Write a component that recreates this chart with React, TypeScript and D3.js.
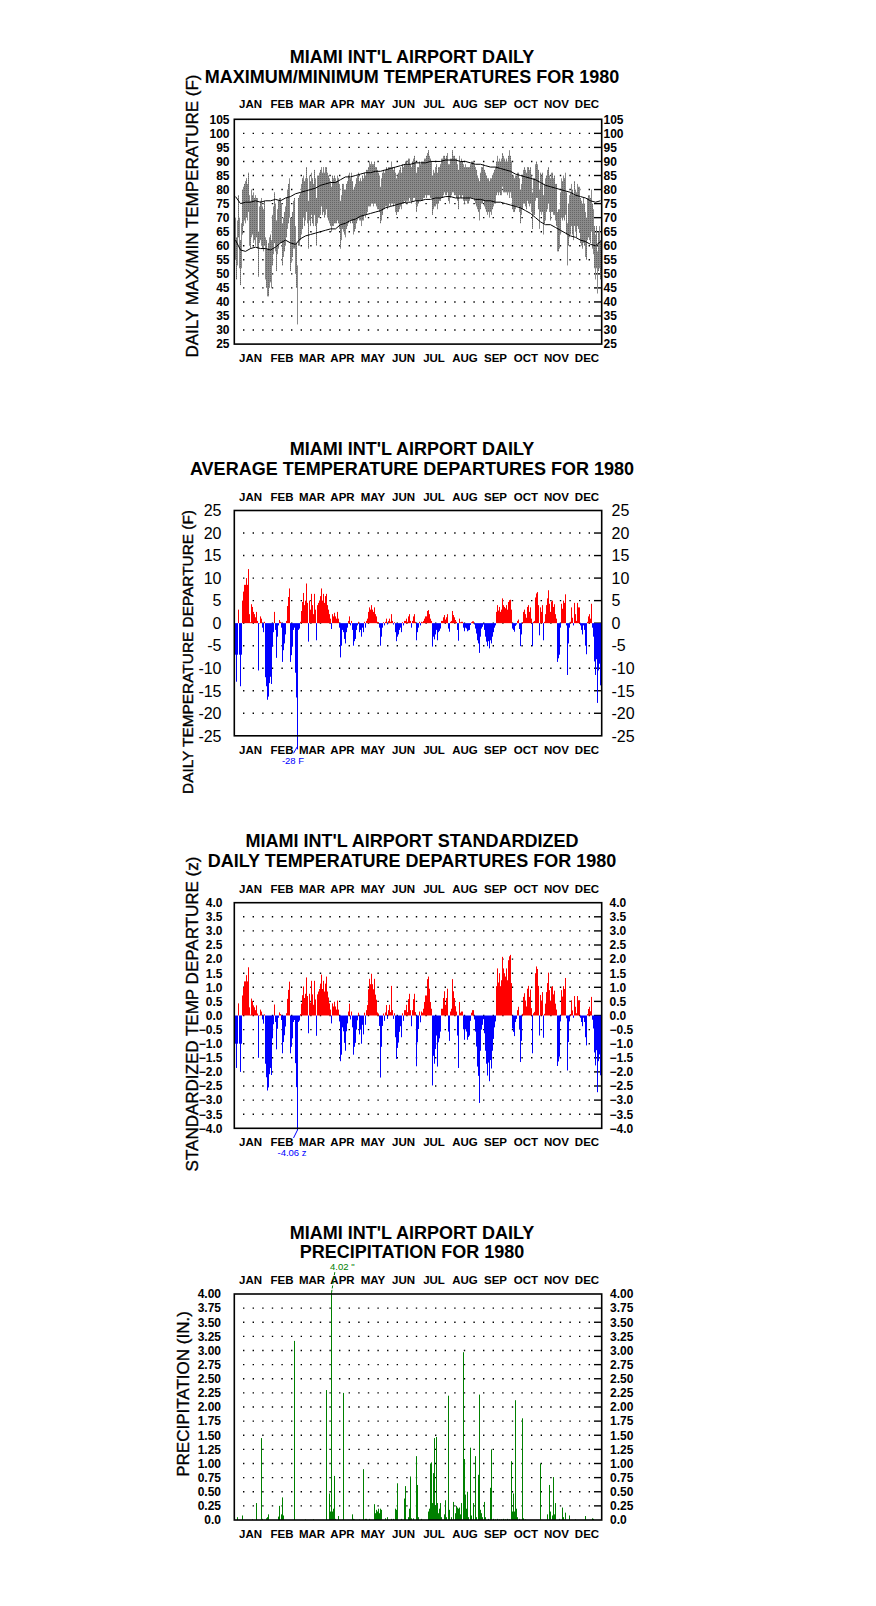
import React from 'react';
import * as d3 from 'd3';

// ---------------- DATA ----------------
const MONTHS = ['JAN', 'FEB', 'MAR', 'APR', 'MAY', 'JUN', 'JUL', 'AUG', 'SEP', 'OCT', 'NOV', 'DEC'];
const MONTH_DAYS = [31, 29, 31, 30, 31, 30, 31, 31, 30, 31, 30, 31];

// daily maximum temperature (F), day 0 = Jan 1 1980
const TMAX = [
  70, 63, 69, 78, 70, 62, 68, 80, 81, 82, 83, 84, 82, 86, 78, 76, 80, 78, 79, 77, 78, 77, 77, 65, 74, 76, 77, 74, 73, 76, 63,
  62, 59, 61, 63, 64, 62, 71, 74, 79, 75, 69, 73, 76, 77, 77, 75, 68, 70, 72, 74, 77, 80, 82, 84, 70, 70, 72, 76, 77,
  67, 61, 53, 77, 78, 79, 82, 84, 85, 83, 84, 88, 84, 76, 85, 83, 86, 84, 82, 87, 84, 77, 85, 85, 86, 87, 88, 86, 88, 86, 88,
  88, 86, 85, 84, 83, 81, 85, 84, 85, 84, 83, 85, 84, 82, 76, 78, 82, 82, 80, 80, 82, 83, 85, 86, 84, 86, 83, 80, 81, 82,
  84, 85, 86, 83, 84, 83, 85, 84, 86, 85, 87, 87, 88, 90, 89, 90, 89, 89, 90, 88, 88, 87, 86, 85, 81, 84, 86, 87, 86, 87, 88,
  87, 88, 88, 88, 90, 88, 87, 88, 86, 84, 85, 86, 87, 88, 86, 89, 88, 89, 90, 90, 89, 91, 91, 89, 88, 90, 91, 92, 90, 86,
  88, 88, 90, 89, 90, 90, 90, 91, 91, 92, 93, 94, 92, 91, 90, 85, 87, 86, 88, 89, 86, 88, 88, 89, 91, 91, 92, 92, 91, 92, 93,
  89, 89, 91, 91, 94, 92, 92, 91, 91, 89, 87, 92, 90, 91, 90, 89, 88, 89, 88, 88, 88, 88, 89, 90, 90, 90, 89, 88, 87, 85, 84,
  83, 86, 88, 88, 89, 87, 86, 85, 84, 84, 83, 84, 84, 85, 86, 87, 88, 90, 92, 90, 91, 90, 91, 93, 92, 91, 90, 91, 90, 92,
  94, 92, 90, 85, 85, 84, 85, 85, 86, 86, 84, 80, 82, 85, 87, 88, 87, 86, 88, 88, 87, 88, 85, 79, 84, 84, 89, 90, 89, 87, 80,
  86, 85, 86, 78, 82, 84, 85, 87, 88, 85, 84, 86, 86, 84, 85, 82, 82, 72, 73, 73, 79, 84, 83, 85, 84, 86, 79, 68, 75, 78,
  79, 82, 80, 78, 83, 80, 79, 82, 81, 81, 77, 76, 75, 77, 75, 72, 70, 77, 78, 78, 77, 80, 75, 73, 67, 64, 67, 58, 65, 67, 62,
];

// daily minimum temperature (F)
const TMIN = [
  55, 48, 53, 63, 52, 46, 52, 64, 67, 69, 68, 70, 69, 72, 60, 59, 63, 64, 61, 62, 60, 63, 59, 49, 61, 62, 60, 59, 58, 60, 48,
  45, 42, 42, 45, 47, 45, 53, 57, 61, 58, 51, 57, 59, 61, 61, 61, 53, 56, 58, 60, 63, 66, 68, 70, 51, 54, 56, 59, 59,
  50, 45, 32, 60, 60, 62, 64, 66, 70, 67, 69, 72, 68, 59, 69, 67, 71, 68, 67, 71, 67, 60, 68, 70, 70, 71, 74, 71, 72, 70, 71,
  73, 70, 69, 68, 67, 65, 67, 67, 68, 68, 68, 69, 68, 66, 59, 62, 66, 65, 64, 63, 66, 67, 68, 69, 68, 69, 68, 64, 65, 66,
  68, 69, 70, 69, 69, 67, 69, 69, 71, 70, 71, 72, 74, 74, 74, 75, 75, 74, 75, 75, 74, 73, 73, 72, 68, 69, 71, 73, 73, 74, 74,
  73, 74, 75, 74, 75, 75, 74, 75, 72, 71, 72, 72, 73, 74, 73, 75, 75, 76, 75, 76, 76, 76, 77, 76, 75, 76, 77, 77, 76, 72,
  74, 75, 76, 76, 76, 76, 77, 77, 78, 77, 78, 78, 78, 77, 77, 71, 73, 74, 74, 75, 73, 75, 76, 76, 77, 77, 78, 79, 78, 78, 79,
  76, 75, 77, 78, 79, 79, 78, 78, 77, 76, 73, 78, 77, 77, 78, 76, 75, 76, 76, 75, 75, 76, 77, 77, 77, 77, 76, 75, 74, 73, 72,
  69, 73, 75, 75, 76, 74, 73, 72, 71, 72, 70, 72, 71, 73, 74, 75, 75, 78, 79, 78, 79, 78, 78, 81, 79, 79, 79, 79, 78, 79,
  77, 79, 77, 73, 72, 72, 73, 74, 74, 74, 72, 68, 71, 73, 75, 75, 74, 73, 76, 75, 74, 75, 72, 66, 71, 71, 76, 77, 77, 73, 66,
  72, 71, 72, 64, 68, 69, 72, 73, 75, 72, 69, 72, 72, 71, 71, 69, 67, 58, 58, 59, 64, 70, 69, 70, 69, 71, 64, 53, 60, 63,
  64, 67, 64, 62, 67, 65, 63, 67, 66, 65, 61, 60, 59, 61, 60, 56, 55, 62, 63, 62, 61, 65, 59, 57, 52, 48, 52, 43, 51, 52, 48,
];

// normal max / min curves, sampled every 5 days
const NORM_DAY = [
  0, 5, 10, 15, 20, 25, 30, 35, 40, 45, 50, 55, 60, 65, 70, 75, 80, 85, 90, 95, 100, 105, 110, 115, 120, 125, 130, 135, 140, 145,
  150, 155, 160, 165, 170, 175, 180, 185, 190, 195, 200, 205, 210, 215, 220, 225, 230, 235, 240, 245, 250, 255, 260, 265, 270, 275,
  280, 285, 290, 295, 300, 305, 310, 315, 320, 325, 330, 335, 340, 345, 350, 355, 360, 365,
];
const NORM_MAX = [
  77.5, 75, 75.5, 75.5, 76, 75.5, 76, 76, 76.5, 76, 77, 77.5, 78.5, 79, 79.5,
  80, 80.5, 81.5, 82, 82.5, 82.5, 83.5, 84.5, 84.5, 85, 85.5, 86, 86, 86.5, 86.5,
  87, 87.5, 88, 88.5, 89, 89, 89.5, 89.5, 89.5, 90, 90, 90, 90.5, 90.5, 90.5,
  90, 90, 89.5, 89, 89, 88.5, 88, 88, 87.5, 87, 86.5, 85.5, 85, 84.5, 84,
  83.5, 82.5, 81.5, 81, 80.5, 80, 79.5, 79, 78, 77.5, 77, 76, 75.5, 76,
];
const NORM_MIN = [
  62, 58.5, 58, 59, 59.5, 59, 59, 58.5, 59.5, 61, 62, 61, 60.5, 62.5, 63.5,
  64, 64.5, 65, 65.5, 66, 66, 67.5, 68, 69, 69.5, 70.5, 71, 71.5, 72, 72.5,
  73.5, 74, 74.5, 75, 75.5, 75.5, 76, 76, 76.5, 76.5, 77, 77, 77.5, 77.5, 77,
  77, 77, 77, 76.5, 76.5, 76, 76, 75.5, 75.5, 75, 74.5, 74, 73.5, 72.5, 71.5,
  70, 68.5, 67.5, 67.5, 66.5, 65.5, 64.5, 63.5, 63, 62, 61.5, 60.5, 60, 61.5,
];

// daily average temperature departure (F)
const DEP = [
  -7, -13, -7, 3, -7, -14, -7, 5, 7, 8.5, 8.5, 10, 8.5, 12, 2, 0.2, 4.2, 3.6, 2.5, 2, 1.3, 2.5, 0.5, -10.5, 0, 1.5, 1, -1, -2, 0.3, -12,
  -14, -17, -16.3, -13.3, -11.9, -13.5, -5.2, -2, 2.5, -1.5, -7.7, -3, -0.5, 0.7, 0.3, -1, -8.6, -6, -4.5, -2.5, 0.5, 3.8, 5.8, 7.7, -8.6, -7.1, -5.2, -1.5, -1,
  -11, -16.5, -28, -1.5, -1.2, 0.3, 2.7, 4.7, 6.7, 4, 5, 8.8, 4.5, -4.1, 5, 3, 6.5, 4, 2, 6.5, 3, -3.8, 4, 4.5, 5, 6, 7.7, 5, 6.5, 4.5, 6,
  6.5, 4, 3, 2, 1, -1.3, 2, 1.5, 2.3, 1.5, 1, 2.5, 1, -1, -7.6, -5, -1.5, -2, -3.5, -4.5, -2, -1, 0.5, 1.5, -0.5, 0.5, -1.5, -5, -4, -3.5,
  -1.5, -0.5, 0.3, -2, -1.5, -3, -1, -2, 0.3, -1, 0.5, 1, 2.5, 3.5, 3, 4, 3, 2.5, 3.5, 2, 1.5, 0.3, 0.2, -1, -5, -3, -1, 0.2, -0.5, 0.3, 1,
  -0.3, 0.5, 1, 0.3, 2, 0.5, -0.3, 0.2, -2, -4, -3, -2.5, -1.5, -1, -2, 0.2, -0.5, 0.5, 0.5, 1, 0.3, 1.5, 2, 0.5, -1, 0.5, 1.5, 2, 0.3, -3.8,
  -2, -1, 0.3, -0.5, 0.3, 0.2, 0.5, 1, 1.5, 1.5, 2.7, 2.9, 2, 1, 0.5, -5.2, -3, -3.6, -2.5, -1.5, -3.8, -2, -1.7, -1.2, 0.5, 0.5, 1.3, 1.8, 0.8, 1.3, 2,
  -1.2, -1.9, 0.3, 0.5, 2.7, 1.8, 1.3, 0.7, 0.3, -1.5, -3.9, 1, 0.2, 0.3, 0.3, -1, -1.8, -1, -1.2, -1.8, -1.6, -1.5, -0.4, 0.2, 0.4, 0.4, -0.3, -1.2, -2.3, -3.8, -4.5,
  -6.6, -3, -1.2, -0.8, -0.3, -1.5, -3, -4.1, -5.1, -4, -5.6, -3.8, -4.5, -3, -2, -1, -0.5, 2.5, 4, 2.8, 3.6, 2.5, 3, 5.5, 4, 3.6, 3.3, 4, 3, 4.7,
  5.1, 5.2, 3, -1.2, -1.5, -1.9, -0.6, -0.3, 0.5, 0.8, -1.3, -5.1, -2.5, 0.2, 2.5, 3, 2, 1.2, 3.6, 4, 2.5, 3.5, 1, -5.1, 0.3, 0.5, 5.7, 6.6, 6.9, 4, -2.7,
  3.5, 2.5, 4, -3.8, 0.3, 2, 4, 5.5, 7.3, 4.3, 2.5, 4.8, 5, 3.6, 4.2, 2, 1, -8.6, -7.8, -7, -1, 4.3, 3.2, 5, 4.5, 6.4, -0.5, -11.5, -4.5, -1,
  0.3, 3.5, 1.2, -0.5, 4.5, 2, 0.5, 4.5, 3.5, 3.5, -0.5, -1.5, -2.5, -0.5, -1.5, -5, -6.9, 0.3, 1.5, 2, 1, 4.3, -1, -3, -8.5, -11.5, -8, -17.7, -10.5, -9, -13.8,
];

// standardized daily departure (z)
const ZDEP = [
  -1.0, -1.86, -1.0, 0.43, -1.0, -2.0, -1.0, 0.71, 1.0, 1.21, 1.21, 1.43, 1.21, 1.71, 0.29, 0.03, 0.6, 0.51, 0.36, 0.29, 0.19, 0.36, 0.07, -1.5, 0, 0.21, 0.14, -0.14, -0.29, 0.04, -1.71,
  -2.19, -2.66, -2.55, -2.08, -1.86, -2.11, -0.81, -0.31, 0.39, -0.23, -1.2, -0.47, -0.08, 0.11, 0.05, -0.16, -1.34, -0.94, -0.7, -0.39, 0.08, 0.59, 0.91, 1.2, -1.34, -1.11, -0.81, -0.23, -0.16,
  -1.69, -2.54, -4.06, -0.23, -0.18, 0.05, 0.42, 0.72, 1.03, 0.62, 0.77, 1.35, 0.69, -0.63, 0.77, 0.46, 1.23, 0.75, 0.38, 1.23, 0.57, -0.72, 0.75, 0.85, 0.94, 1.13, 1.45, 0.94, 1.23, 0.85, 1.13,
  1.38, 0.85, 0.64, 0.43, 0.21, -0.28, 0.43, 0.32, 0.49, 0.32, 0.21, 0.53, 0.21, -0.21, -1.62, -1.39, -0.42, -0.56, -0.97, -1.25, -0.56, -0.28, 0.14, 0.42, -0.14, 0.14, -0.42, -1.39, -1.11, -0.97,
  -0.5, -0.17, 0.1, -0.67, -0.5, -1.0, -0.33, -0.67, 0.1, -0.33, 0.19, 0.37, 0.93, 1.3, 1.11, 1.48, 1.11, 0.93, 1.3, 0.74, 0.56, 0.11, 0.07, -0.37, -2.2, -1.11, -0.37, 0.07, -0.19, 0.11, 0.37,
  -0.12, 0.19, 0.38, 0.12, 1.05, 0.19, -0.12, 0.08, -0.77, -1.54, -1.15, -0.96, -0.58, -0.38, -0.77, 0.08, -0.19, 0.19, 0.19, 0.38, 0.12, 0.58, 0.77, 0.19, -0.38, 0.19, 0.58, 0.77, 0.12, -1.8,
  -0.95, -0.48, 0.14, -0.24, 0.14, 0.1, 0.24, 0.48, 0.71, 0.71, 1.29, 1.38, 0.95, 0.48, 0.24, -2.48, -1.43, -1.71, -1.19, -0.71, -1.81, -0.95, -0.81, -0.57, 0.24, 0.24, 0.62, 0.86, 0.38, 0.62, 0.95,
  -0.57, -0.9, 0.14, 0.24, 1.29, 0.86, 0.62, 0.33, 0.14, -0.71, -1.86, 0.48, 0.1, 0.14, 0.14, -0.48, -0.86, -0.48, -0.57, -0.86, -0.76, -0.71, -0.19, 0.1, 0.19, 0.19, -0.14, -0.57, -1.1, -1.81, -2.14,
  -3.1, -1.25, -0.5, -0.33, -0.13, -0.63, -1.25, -1.71, -2.13, -1.67, -2.33, -1.58, -1.88, -1.25, -0.83, -0.42, -0.21, 1.04, 1.67, 1.17, 1.5, 1.04, 1.25, 2.08, 1.67, 1.5, 1.38, 1.67, 1.25, 1.96,
  2.1, 2.15, 1.15, -0.46, -0.58, -0.73, -0.23, -0.12, 0.19, 0.31, -0.5, -1.65, -0.9, 0.06, 0.66, 0.79, 0.53, 0.32, 0.95, 1.05, 0.66, 0.92, 0.26, -1.34, 0.08, 0.13, 1.5, 1.74, 1.65, 1.05, -0.71,
  0.73, 0.52, 0.83, -0.79, 0.06, 0.42, 0.83, 1.15, 1.52, 0.9, 0.52, 1.0, 1.04, 0.75, 0.88, 0.42, 0.21, -1.79, -1.63, -1.46, -0.21, 0.9, 0.67, 1.04, 0.94, 1.33, -0.1, -1.95, -0.94, -0.21,
  0.05, 0.54, 0.18, -0.08, 0.69, 0.31, 0.08, 0.69, 0.54, 0.54, -0.08, -0.23, -0.38, -0.08, -0.23, -0.77, -1.06, 0.05, 0.23, 0.31, 0.15, 0.66, -0.15, -0.46, -1.31, -1.77, -1.23, -2.72, -1.62, -1.38, -2.12,
];

// daily precipitation (inches): days with measurable rain and their amounts
const PRCP_DAY = [
  2, 7, 17, 21, 26, 27, 31, 32, 33, 43, 44, 46, 47, 48, 59, 70, 78, 91, 94, 95, 96, 97, 98, 99, 100, 103, 108, 117, 118, 119,
  124, 128, 130, 131, 134, 139, 140, 141, 142, 143, 144, 145, 146, 150, 152, 156, 158, 160, 161, 162, 166, 169, 170, 173, 174,
  175, 176, 178, 181, 182, 183, 186, 193, 194, 195, 196, 197, 198, 199, 200, 201, 202, 203, 204, 205, 206, 209, 210, 211, 213,
  214, 216, 218, 220, 221, 222, 223, 224, 225, 226, 228, 229, 230, 231, 232, 233, 235, 236, 238, 240, 241, 243, 244, 245, 246,
  247, 249, 250, 253, 255, 256, 258, 260, 262, 264, 266, 268, 270, 272, 274, 276, 277, 278, 279, 280, 281, 282, 284, 287, 288,
  290, 305, 312, 314, 315, 317, 318, 319, 320, 324, 327, 328, 330, 334, 340, 350, 357, 358,
];
const PRCP_IN = [
  0.05, 0.08, 0.01, 0.3, 1.45, 0.02, 0.03, 0.05, 0.1, 0.06, 0.25, 0.1, 0.4, 0.08, 3.17, 0.01, 0.01, 2.3, 0.47, 0.15, 4.02, 0.15, 0.2, 0.78, 0.02, 0.07, 2.25, 0.1, 0.02, 0.01,
  0.01, 0.9, 0.02, 0.02, 0.02, 0.28, 0.12, 0.18, 0.15, 0.2, 0.12, 0.2, 0.18, 0.03, 0.05, 0.02, 0.02, 0.2, 0.18, 0.65, 0.02, 0.38, 0.6, 0.05, 0.2,
  0.77, 0.03, 0.03, 1.13, 0.62, 0.05, 0.02, 0.15, 0.2, 1.0, 1.02, 0.3, 0.83, 1.45, 0.25, 1.47, 0.3, 0.12, 0.2, 0.3, 0.05, 0.1, 0.35, 0.05, 2.2,
  0.18, 0.05, 0.32, 0.12, 0.25, 0.22, 0.2, 0.22, 0.1, 0.3, 2.97, 1.08, 0.45, 0.2, 0.5, 0.05, 1.28, 0.08, 0.3, 1.13, 0.05, 0.8, 2.22, 0.18, 0.12,
  0.05, 0.32, 0.05, 0.02, 0.57, 1.25, 0.02, 0.01, 0.02, 0.01, 0.01, 0.02, 0.01, 0.02, 0.01, 1.04, 0.15, 0.47, 0.15, 2.12, 0.2, 0.05, 0.02, 1.8, 0.03,
  0.01, 1.0, 0.1, 0.62, 0.15, 0.08, 0.76, 0.1, 0.3, 0.02, 0.22, 0.05, 0.13, 0.08, 0.01, 0.07, 0.03, 0.02,
];

// ---------------- LAYOUT ----------------
const FONT = "'Liberation Sans', Arial, Helvetica, sans-serif";
const W = 876;
const H = 1606;
const MONTH_START = (d3.cumsum([0, ...MONTH_DAYS]) as unknown as number[]).slice(0, 12);
const x = d3.scaleLinear().domain([0, 366]).range([235, 601]);
const FRAME_L = 234.3;
const FRAME_R = 601.7;
const GRID_L = 243;
const GRID_R = 593;

type PanelCfg = {
  top: number;
  bottom: number;
  domain: [number, number];
  grid: number[];
  labels: number[];
  fmt: (v: number) => string;
  labelSize: number;
  labelWeight: string;
  leftX: number;
  rightX: number;
  title: string[];
  titleBase: number[];
  monthTop: number;
  monthBot: number;
  yTitle: string;
  yTitleX: number;
  yTitleY: number;
  yTitleSize: number;
  bottomTicksOut?: boolean;
};

function Frame({ cfg, y }: { cfg: PanelCfg; y: d3.ScaleLinear<number, number> }) {
  const firstGrid = y(d3.max(cfg.grid) as number);
  const lastGrid = y(d3.min(cfg.grid) as number);
  return (
    <g>
      {cfg.title.map((t, i) => (
        <text key={'t' + i} x={412} y={cfg.titleBase[i]} textAnchor="middle" fontFamily={FONT} fontWeight="bold" fontSize={18}>
          {t}
        </text>
      ))}
      <text
        transform={`translate(${cfg.yTitleX},${cfg.yTitleY}) rotate(-90)`}
        textAnchor="middle"
        fontFamily={FONT}
        fontSize={cfg.yTitleSize}
        stroke="#000"
        strokeWidth={0.35}
      >
        {cfg.yTitle}
      </text>
      {MONTHS.map((m, i) => {
        const cx = x(MONTH_START[i] + MONTH_DAYS[i] / 2) + (i === 0 ? 0 : 1.5);
        return (
          <g key={m}>
            <text x={cx} y={cfg.monthTop} textAnchor="middle" fontFamily={FONT} fontWeight="bold" fontSize={11.5}>{m}</text>
            <text x={cx} y={cfg.monthBot} textAnchor="middle" fontFamily={FONT} fontWeight="bold" fontSize={11.5}>{m}</text>
          </g>
        );
      })}
      {cfg.grid.map((v) => (
        <g key={'g' + v}>
          <line x1={GRID_L} x2={GRID_R} y1={y(v)} y2={y(v)} stroke="#000" strokeWidth={1.4} strokeDasharray="1.4 8.2" />
          <line x1={GRID_R + 1} x2={FRAME_R} y1={y(v)} y2={y(v)} stroke="#000" strokeWidth={1.4} />
        </g>
      ))}
      {MONTH_START.slice(1).map((s) => (
        <g key={'m' + s}>
          <line x1={x(s)} x2={x(s)} y1={cfg.top} y2={firstGrid} stroke="#000" strokeWidth={1.4} />
          {cfg.bottomTicksOut ? (
            <line x1={x(s)} x2={x(s)} y1={cfg.bottom} y2={cfg.bottom + 16} stroke="#000" strokeWidth={1.4} />
          ) : (
            <line x1={x(s)} x2={x(s)} y1={cfg.bottom} y2={lastGrid} stroke="#000" strokeWidth={1.4} />
          )}
        </g>
      ))}
      {cfg.labels.map((v) => (
        <g key={'l' + v}>
          <text x={cfg.leftX} y={y(v)} dy="0.36em" textAnchor="end" fontFamily={FONT} fontWeight={cfg.labelWeight} fontSize={cfg.labelSize}>
            {cfg.fmt(v)}
          </text>
          <text x={cfg.rightX} y={y(v)} dy="0.36em" textAnchor="start" fontFamily={FONT} fontWeight={cfg.labelWeight} fontSize={cfg.labelSize}>
            {cfg.fmt(v)}
          </text>
        </g>
      ))}
    </g>
  );
}

function FrameBox({ cfg }: { cfg: PanelCfg }) {
  return (
    <rect x={FRAME_L} y={cfg.top} width={FRAME_R - FRAME_L} height={cfg.bottom - cfg.top} fill="none" stroke="#000" strokeWidth={1.6} />
  );
}

const P1: PanelCfg = {
  top: 119.3, bottom: 344.1, domain: [25, 105],
  grid: d3.range(30, 101, 5), labels: d3.range(25, 106, 5), fmt: (v) => String(v),
  labelSize: 12, labelWeight: 'bold', leftX: 229.5, rightX: 603.5,
  title: ["MIAMI INT'L AIRPORT DAILY", 'MAXIMUM/MINIMUM TEMPERATURES FOR 1980'], titleBase: [63.3, 83.3],
  monthTop: 108.3, monthBot: 362, yTitle: 'DAILY MAX/MIN TEMPERATURE (F)', yTitleX: 198, yTitleY: 216, yTitleSize: 17,
};
const P2: PanelCfg = {
  top: 510.5, bottom: 735.8, domain: [-25, 25],
  grid: d3.range(-20, 21, 5), labels: d3.range(-25, 26, 5), fmt: (v) => String(v),
  labelSize: 16, labelWeight: 'normal', leftX: 221.5, rightX: 611.5,
  title: ["MIAMI INT'L AIRPORT DAILY", 'AVERAGE TEMPERATURE DEPARTURES FOR 1980'], titleBase: [455, 475],
  monthTop: 501, monthBot: 754, yTitle: 'DAILY TEMPERATURE DEPARTURE (F)', yTitleX: 193, yTitleY: 652, yTitleSize: 15.4,
};
const P3: PanelCfg = {
  top: 902.7, bottom: 1128.3, domain: [-4, 4],
  grid: d3.range(-3.5, 3.51, 0.5), labels: d3.range(-4, 4.01, 0.5), fmt: (v) => d3.format('.1f')(v),
  labelSize: 12, labelWeight: 'bold', leftX: 222.5, rightX: 609.5,
  title: ["MIAMI INT'L AIRPORT STANDARDIZED", 'DAILY TEMPERATURE DEPARTURES FOR 1980'], titleBase: [846.7, 866.7],
  monthTop: 892.7, monthBot: 1146, yTitle: 'STANDARDIZED TEMP DEPARTURE (z)', yTitleX: 197.5, yTitleY: 1014, yTitleSize: 17,
};
const P4: PanelCfg = {
  top: 1294, bottom: 1520, domain: [0, 4],
  grid: d3.range(0.25, 3.76, 0.25), labels: d3.range(0, 4.01, 0.25), fmt: (v) => (v === 0 ? '0.0' : d3.format('.2f')(v)),
  labelSize: 12, labelWeight: 'bold', leftX: 221, rightX: 610,
  title: ["MIAMI INT'L AIRPORT DAILY", 'PRECIPITATION FOR 1980'], titleBase: [1239, 1258.3],
  monthTop: 1284.3, monthBot: 1537.7, yTitle: 'PRECIPITATION (IN.)', yTitleX: 189, yTitleY: 1394, yTitleSize: 17,
  bottomTicksOut: true,
};

const yOf = (c: PanelCfg) => d3.scaleLinear().domain(c.domain).range([c.bottom, c.top]);

export default function App() {
  const y1 = yOf(P1);
  const y2 = yOf(P2);
  const y3 = yOf(P3);
  const y4 = yOf(P4);
  const days = d3.range(TMAX.length);
  const dw = x(1) - x(0);

  const normLine = d3.line<number>().x((_, i) => x(NORM_DAY[i] + 0.5));
  const maxPath = normLine.y((v) => y1(v))(NORM_MAX) || '';
  const minPath = normLine.y((v) => y1(v))(NORM_MIN) || '';

  const bars = (vals: number[], y: d3.ScaleLinear<number, number>) =>
    vals.map((v, i) => {
      const y0 = y(0);
      const yv = y(v);
      return (
        <rect
          key={i}
          x={x(i)}
          width={dw}
          y={Math.min(y0, yv)}
          height={Math.max(0.5, Math.abs(yv - y0))}
          fill={v >= 0 ? '#ff0000' : '#0000ff'}
        />
      );
    });

  const iMin2 = d3.minIndex(DEP);
  const iMin3 = d3.minIndex(ZDEP);
  const iMax4 = d3.maxIndex(PRCP_IN);
  const xb2 = x(iMin2) + dw / 2;
  const yb2 = y2(DEP[iMin2]);
  const xb3 = x(iMin3) + dw / 2;
  const yb3 = y3(ZDEP[iMin3]);
  const xb4 = x(PRCP_DAY[iMax4]) + dw / 2;
  const yb4 = y4(PRCP_IN[iMax4]);

  return (
    <svg width={W} height={H} style={{ position: 'absolute', left: 0, top: 0, background: '#fff' }}>
      <defs>
        <pattern id="grayPat" width="2" height="2" patternUnits="userSpaceOnUse">
          <rect width="2" height="2" fill="#8a8a8a" />
          <rect width="1" height="1" fill="#666666" />
        </pattern>
      </defs>
      <rect width={W} height={H} fill="#fff" />

      {/* Panel 1 */}
      <Frame cfg={P1} y={y1} />
      <g>
        {days.map((i) => (
          <rect key={i} x={x(i)} width={dw} y={y1(TMAX[i])} height={y1(TMIN[i]) - y1(TMAX[i])} fill="url(#grayPat)" />
        ))}
      </g>
      <path d={maxPath} fill="none" stroke="#000" strokeWidth={1} />
      <path d={minPath} fill="none" stroke="#000" strokeWidth={1} />
      <FrameBox cfg={P1} />

      {/* Panel 2 */}
      <Frame cfg={P2} y={y2} />
      <g>{bars(DEP, y2)}</g>
      <FrameBox cfg={P2} />
      <line x1={xb2} y1={yb2 - 3} x2={xb2 - 4} y2={yb2 + 4} stroke="#0000ff" strokeWidth={1} />
      <text x={xb2 - 4.5} y={764} textAnchor="middle" fontFamily={FONT} fontSize={9.5} fill="#0000ff">
        {`${Math.round(DEP[iMin2])} F`}
      </text>

      {/* Panel 3 */}
      <Frame cfg={P3} y={y3} />
      <g>{bars(ZDEP, y3)}</g>
      <FrameBox cfg={P3} />
      <line x1={xb3} y1={yb3} x2={xb3 - 4} y2={yb3 + 8} stroke="#0000ff" strokeWidth={1} />
      <text x={xb3 - 5.5} y={1156} textAnchor="middle" fontFamily={FONT} fontSize={9.5} fill="#0000ff">
        {`${ZDEP[iMin3].toFixed(2)} z`}
      </text>

      {/* Panel 4 */}
      <Frame cfg={P4} y={y4} />
      <g>
        {PRCP_DAY.map((d, i) => (
          <rect key={i} x={x(d)} width={dw} y={y4(PRCP_IN[i])} height={y4(0) - y4(PRCP_IN[i])} fill="#008000" />
        ))}
      </g>
      <FrameBox cfg={P4} />
      <line x1={xb4} y1={yb4} x2={xb4 + 3.5} y2={yb4 - 22} stroke="#008000" strokeWidth={1} strokeDasharray="3 1.5" />
      <text x={xb4 - 1.5} y={1269.5} textAnchor="start" fontFamily={FONT} fontSize={9.5} fill="#008000">
        {`${PRCP_IN[iMax4].toFixed(2)} "`}
      </text>
    </svg>
  );
}
